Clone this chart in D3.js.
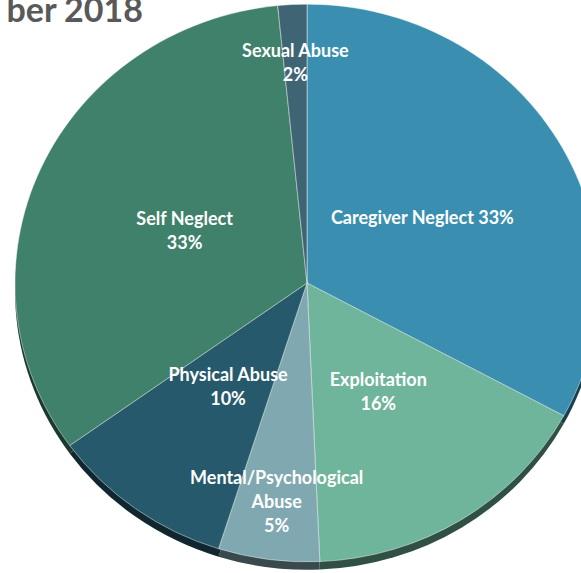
<!DOCTYPE html>
<html>
<head>
<meta charset="utf-8">
<script src="https://cdn.jsdelivr.net/npm/d3@7"></script>
<style>
  body { margin: 0; background: #fff; }
  svg { display: block; }
</style>
</head>
<body>
<svg id="chart"></svg>
<script>
// data
var categories = ["Caregiver Neglect", "Exploitation", "Mental/Psychological Abuse", "Physical Abuse", "Self Neglect", "Sexual Abuse"];
var values = [32.9, 16.4, 5.6, 10.2, 33.3, 1.6];
var labelPct = ["33%", "16%", "5%", "10%", "33%", "2%"];
var labelLines = [
    ["Caregiver Neglect 33%"],
    ["Exploitation", "16%"],
    ["Mental/Psychological", "Abuse", "5%"],
    ["Physical Abuse", "10%"],
    ["Self Neglect", "33%"],
    ["Sexual Abuse", "2%"]
];
var colors = ["#3a8fb1", "#6fb59c", "#80a8b0", "#27596c", "#40816c", "#3f6575"];
var titleText = "ber 2018";

var width = 581, height = 573;
var cx = 307, cy = 283;
var R = 292, squash = 0.955, depth = 8;

var svg = d3.select("#chart")
    .attr("width", width)
    .attr("height", height);

var data = [];
for (var i = 0; i < categories.length; i++) {
    data.push({name: categories[i], value: values[i], color: colors[i], lines: labelLines[i], pct: labelPct[i]});
}

var pie = d3.pie().sort(null).value(function (d) { return d.value; });
var arcs = pie(data);
var arc = d3.arc().innerRadius(0).outerRadius(R);

// side of the tilted pie: same slices, pushed down and darker
var sideFace = svg.append("g")
    .attr("transform", "translate(" + cx + "," + (cy + depth) + ") scale(1," + squash + ")");
sideFace.selectAll("path")
    .data(arcs)
    .enter()
    .append("path")
    .attr("d", arc)
    .attr("fill", function (d) { return d3.color(d.data.color).darker(2.3); });

// top face
var topFace = svg.append("g")
    .attr("transform", "translate(" + cx + "," + cy + ") scale(1," + squash + ")");
topFace.selectAll("path")
    .data(arcs)
    .enter()
    .append("path")
    .attr("d", arc)
    .attr("fill", function (d) { return d.data.color; })
    .attr("stroke", "rgba(255,255,255,0.45)")
    .attr("stroke-width", 1)
    .attr("vector-effect", "non-scaling-stroke");

// labels: big slices near the middle, small ones out near the rim
var lineH = 24;
var labels = svg.append("g")
    .attr("transform", "translate(" + cx + "," + cy + ")");
labels.selectAll("text")
    .data(arcs)
    .enter()
    .append("text")
    .attr("transform", function (d) {
        var share = (d.endAngle - d.startAngle) / (2 * Math.PI);
        var r = share < 0.08 ? R * 0.79 : R * 0.46;
        var a = (d.startAngle + d.endAngle) / 2;
        var x = Math.sin(a) * r;
        var y = -Math.cos(a) * r * squash;
        return "translate(" + x + "," + y + ")";
    })
    .attr("text-anchor", "middle")
    .style("font-family", "Lato, 'Open Sans', sans-serif")
    .style("font-weight", "bold")
    .style("font-size", "18px")
    .attr("fill", "#ffffff")
    .each(function (d) {
        var n = d.data.lines.length;
        var t = d3.select(this);
        d.data.lines.forEach(function (line, j) {
            t.append("tspan")
                .attr("x", 0)
                .attr("y", (j - (n - 1) / 2) * lineH)
                .attr("dy", "0.35em")
                .text(line);
        });
    });

// title, cut off at the left edge as in the original
svg.append("text")
    .attr("x", 143)
    .attr("y", 22)
    .attr("text-anchor", "end")
    .style("font-family", "Lato, 'Open Sans', sans-serif")
    .style("font-weight", "bold")
    .style("font-size", "34px")
    .attr("fill", "#595959")
    .text(titleText);
</script>
</body>
</html>
